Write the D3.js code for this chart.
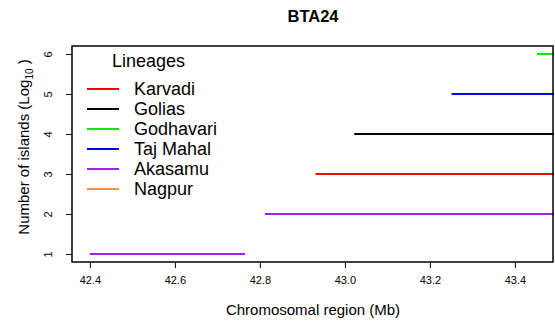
<!DOCTYPE html>
<html>
<head>
<meta charset="utf-8">
<script src="https://cdn.jsdelivr.net/npm/d3@7"></script>
<style>
 body { margin: 0; background: #fff; }
 text { font-family: "Liberation Sans", Arial, sans-serif; }
</style>
</head>
<body>
<script>
const width = 555;
const height = 321;

// lineage names and colours for the legend
const lineages = ["Karvadi", "Golias", "Godhavari", "Taj Mahal", "Akasamu", "Nagpur"];
const lineageColors = ["#ff0000", "#000000", "#00ee00", "#0000ff", "#a020f0", "#ff8c3a"];

// island segments: lineage, start (Mb), end (Mb), log10 count
const segLineage = ["Akasamu", "Akasamu", "Karvadi", "Golias", "Taj Mahal", "Godhavari"];
const segStart = [42.40, 42.812, 42.931, 43.022, 43.251, 43.452];
const segEnd = [42.765, 43.6, 43.6, 43.6, 43.6, 43.6];
const segLevel = [1, 2, 3, 4, 5, 6];

const xTicks = [42.4, 42.6, 42.8, 43.0, 43.2, 43.4];
const yTicks = [1, 2, 3, 4, 5, 6];

const margin = {left: 72, right: 1, top: 46, bottom: 59};

const x = d3.scaleLinear()
	.domain([42.358, 43.492])
	.range([margin.left, width - margin.right]);
const y = d3.scaleLinear()
	.domain([0.8, 6.2])
	.range([height - margin.bottom, margin.top]);

const colorOf = d3.scaleOrdinal().domain(lineages).range(lineageColors);

const svg = d3.select("body")
	.append("svg")
		.attr("width", width)
		.attr("height", height);

svg.append("defs").append("clipPath")
	.attr("id", "plotclip")
	.append("rect")
		.attr("x", margin.left)
		.attr("y", margin.top)
		.attr("width", width - margin.right - margin.left)
		.attr("height", height - margin.bottom - margin.top);

// segments
const segs = segLevel.map((lv, i) => ({name: segLineage[i], x1: segStart[i], x2: segEnd[i], y: lv}));
svg.append("g")
	.attr("clip-path", "url(#plotclip)")
	.selectAll("line")
	.data(segs)
	.join("line")
		.attr("x1", d => x(d.x1))
		.attr("x2", d => x(d.x2))
		.attr("y1", d => y(d.y))
		.attr("y2", d => y(d.y))
		.attr("stroke", d => colorOf(d.name))
		.attr("stroke-width", 2);

// axes
const xAxis = svg.append("g")
	.attr("transform", "translate(0," + (height - margin.bottom) + ")")
	.call(d3.axisBottom(x).tickValues(xTicks).tickFormat(d3.format(".1f")).tickSize(6).tickPadding(8));
xAxis.select(".domain").remove();
xAxis.selectAll("text").attr("font-size", 11).attr("fill", "#000");

const yAxis = svg.append("g")
	.attr("transform", "translate(" + margin.left + ",0)")
	.call(d3.axisLeft(y).tickValues(yTicks).tickFormat(d3.format("d")).tickSize(6));
yAxis.select(".domain").remove();
yAxis.selectAll("text")
	.attr("font-size", 11)
	.attr("fill", "#000")
	.attr("text-anchor", "middle")
	.attr("x", null)
	.attr("y", null)
	.attr("dy", null)
	.attr("transform", "translate(-20,0) rotate(-90)");

// plot box
svg.append("rect")
	.attr("x", margin.left)
	.attr("y", margin.top)
	.attr("width", width - margin.right - margin.left - 1)
	.attr("height", height - margin.bottom - margin.top)
	.attr("fill", "none")
	.attr("stroke", "#000")
	.attr("stroke-width", 1.5);

// title and axis labels
svg.append("text")
	.attr("x", 313)
	.attr("y", 22)
	.attr("text-anchor", "middle")
	.attr("font-size", 16.5)
	.attr("font-weight", "bold")
	.text("BTA24");

svg.append("text")
	.attr("x", 313)
	.attr("y", 315)
	.attr("text-anchor", "middle")
	.attr("font-size", 15)
	.text("Chromosomal region (Mb)");

const ylab = svg.append("text")
	.attr("transform", "translate(29,147) rotate(-90)")
	.attr("text-anchor", "middle")
	.attr("font-size", 15);
ylab.append("tspan").text("Number of islands (Log");
ylab.append("tspan").attr("font-size", 10).attr("dy", 4).text("10");
ylab.append("tspan").attr("dy", -4).text(" )");

// legend
const legend = svg.append("g");
legend.append("text")
	.attr("x", 112)
	.attr("y", 67)
	.attr("font-size", 18)
	.text("Lineages");
const rows = legend.selectAll("g.row")
	.data(lineages)
	.join("g")
		.attr("class", "row")
		.attr("transform", (d, i) => "translate(0," + (89 + i * 20) + ")");
rows.append("line")
	.attr("x1", 87)
	.attr("x2", 119)
	.attr("stroke", d => colorOf(d))
	.attr("stroke-width", 2);
rows.append("text")
	.attr("x", 134)
	.attr("y", 6)
	.attr("font-size", 18)
	.text(d => d);
</script>
</body>
</html>
